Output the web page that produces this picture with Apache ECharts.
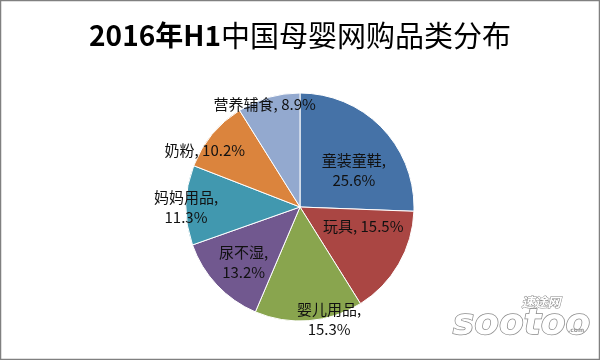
<!DOCTYPE html>
<html><head><meta charset="utf-8">
<script src="https://cdn.jsdelivr.net/npm/echarts@6/dist/echarts.min.js"></script>
<style>html,body{margin:0;padding:0;background:#fff}#c{width:600px;height:360px}</style>
</head><body><div id="c"></div>
<script>
const categories = ['童装童鞋', '玩具', '婴儿用品', '尿不湿', '妈妈用品', '奶粉', '营养辅食'];
const values = [25.6, 15.5, 15.3, 13.2, 11.3, 10.2, 8.9];
const labelTexts = ['童装童鞋,\n25.6%', '玩具, 15.5%', '婴儿用品,\n15.3%', '尿不湿,\n13.2%', '妈妈用品,\n11.3%', '奶粉, 10.2%', '营养辅食, 8.9%'];
const colors = ['#4572A7', '#AA4643', '#89A54E', '#71588F', '#4198AF', '#DB843D', '#93A9CF'];
// label placement style: [radius factor, angular shift in degrees]
const labelPlace = [[0.57, 10], [0.58, -13], [1.02, -10], [0.69, -1], [1.0, -1], [0.97, -9], [0.95, -3]];

const CX = 300, CY = 207, R = 114;
const total = values.reduce((a, b) => a + b, 0);
const cum = [];
values.reduce((a, v, i) => { cum[i] = a + v / 2; return a + v; }, 0);

const chart = echarts.init(document.getElementById('c'));
chart.setOption({
  backgroundColor: '#fff',
  animation: false,
  title: {
    text: '{a|2016年H1}{b|中国母婴网购品类分布}',
    left: 'center', top: 16,
    textStyle: {
      rich: {
        a: { fontFamily: 'Noto Sans CJK SC', fontWeight: 'bold', fontSize: 28, color: '#000' },
        b: { fontFamily: 'Noto Sans CJK SC', fontWeight: 'normal', fontSize: 29, color: '#000' }
      }
    }
  },
  graphic: [
    { type: 'rect', shape: { x: 0.5, y: 0.5, width: 599, height: 359 }, style: { fill: 'none', stroke: '#808080', lineWidth: 1.5 } },
    { type: 'text', left: 521, top: 295, style: { text: '速途网', font: 'italic bold 13px "Noto Sans CJK SC"', fill: '#fff', stroke: '#8a8a8a', lineWidth: 1 } },
    { type: 'text', left: 452, top: 306, style: { text: 'sootoo', font: 'italic bold 36px "DejaVu Sans"', fill: '#fff', stroke: '#8a8a8a', lineWidth: 1.5 } },
    { type: 'text', left: 568, top: 327, style: { text: '.com', font: 'bold 6px "DejaVu Sans"', fill: '#999' } }
  ],
  series: [{
    type: 'pie',
    center: [CX, CY],
    radius: R,
    startAngle: 90,
    clockwise: true,
    color: colors,
    itemStyle: { borderColor: '#fff', borderWidth: 1 },
    emphasis: { disabled: true },
    label: {
      show: true,
      position: 'inside',
      formatter: p => labelTexts[p.dataIndex],
      fontFamily: 'Noto Sans CJK SC',
      fontSize: 15,
      lineHeight: 20,
      color: '#111',
      align: 'center',
      verticalAlign: 'middle'
    },
    labelLine: { show: false },
    labelLayout: function (p) {
      const i = p.dataIndex;
      const ang = (cum[i] / total * 360 + labelPlace[i][1]) * Math.PI / 180;
      const d = R * labelPlace[i][0];
      return { x: CX + d * Math.sin(ang), y: CY - d * Math.cos(ang), align: 'center', verticalAlign: 'middle' };
    },
    data: categories.map((c, i) => ({ name: c, value: values[i] }))
  }]
});
</script></body></html>
